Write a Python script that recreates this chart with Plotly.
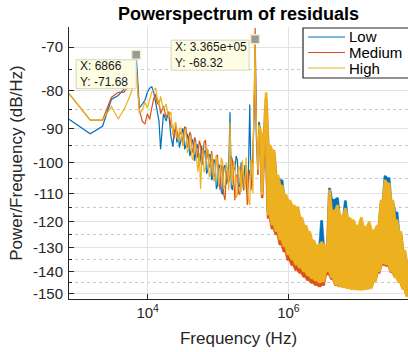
import numpy as np
import plotly.graph_objects as go

# ---------------- data ----------------
FS = 1e8            # sampling frequency (Hz)
NFFT = 131072       # FFT length -> bin width FS/NFFT

BIN_INDEX = [
    1, 2, 3, 4, 5, 6, 7, 8, 9, 10, 11, 12, 13, 14, 15, 16, 17, 18, 19, 20, 22, 24, 26, 28,
    30, 31, 33, 34, 36, 37, 39, 41, 42, 44, 46, 48, 50, 52, 54, 56, 58, 61, 63, 66,
    68, 71, 74, 77, 80, 83, 87, 90, 94, 98, 102, 106, 110, 114, 119, 124, 129, 134, 140, 146,
    152, 158, 165, 172, 179, 186, 194, 202, 210, 219, 228, 237, 247, 257, 268, 279, 290, 302,
    315, 328, 341, 355, 370, 385, 400, 410, 420,
    435, 441, 447, 460, 480, 500,
    520, 555, 592, 632, 674, 719, 767, 819, 874, 932, 995, 1061, 1132, 1208, 1289, 1376,
    1468, 1566, 1671, 1783, 1903, 2030, 2166, 2311, 2466, 2631, 2808, 2996, 3197, 3411,
    3639, 3883, 4143, 4421, 4717, 5033, 5370, 5730, 6114, 6523, 6960, 7427, 7924, 8455,
    9022, 9626, 10271, 10959, 11693, 12477, 13313, 14204, 15156, 16171, 17254, 18410,
    19644, 20960, 22364, 23863, 25461, 27167, 28988, 30930, 33002, 35213, 37572, 40090,
    42776, 45642, 48700, 51963, 55444, 59159, 63123, 65536,
]

LOW = [
    # bins 1..28
    -87.5, -91.5, -89.4, -82.3, -81.3, -79.8, -77.0, -75.0, -71.68, -84.5, -83.5, -82.5,
    -80.5, -79.5, -79.1, -80.5, -83.0, -86.0, -88.0, -96.0, -86.0, -88.0, -85.5, -92.0,
    # bins 30..420
    -95.3, -91.0, -89.9, -94.0, -91.9, -95.5, -93.3, -90.0, -90.4, -96.0, -94.7, -91.5,
    -92.7, -98.0, -96.8, -93.0, -93.8, -99.5, -97.7, -94.5, -95.3, -101.0, -98.6, -95.0,
    -100.8, -97.0, -96.2, -103.5, -102.3, -97.5, -97.7, -105.5, -104.9, -99.0, -99.8,
    -108.5, -107.2, -100.5, -101.7, -109.5, -110.4, -101.5, -100.8, -107.0, -105.5, -101.0,
    -85.6, -108.0, -108.8, -101.5, -102.3, -98.0, -99.3, -108.0, -107.2, -100.0, -102.3,
    -109.0, -100.8, -106.0, -110.4, -102.0, -83.6, -106.0, -107.2, -98.0, -89.1,
    # bins 435..500
    -79.8, -68.32, -82.3, -93.3, -100.8, -88.3,
    # bins 520..65536
    -91.2, -109.5, -92.8, -84.6, -116.8, -95.6, -120.5, -97.2, -123.0, -104.8, -126.2,
    -105.5, -129.0, -111.3, -132.3, -113.2, -134.4, -115.0, -136.5, -115.5, -137.8, -119.4,
    -139.5, -122.3, -141.2, -124.7, -142.5, -128.0, -143.5, -129.9, -144.3, -119.6, -143.9,
    -129.9, -139.5, -108.2, -142.1, -112.0, -145.2, -111.5, -146.0, -118.6, -146.5, -112.5,
    -146.9, -119.4, -147.3, -120.3, -147.3, -122.3, -147.6, -119.4, -147.6, -122.7, -147.3,
    -121.0, -146.9, -124.1, -143.9, -122.3, -139.5, -113.3, -136.1, -104.2, -136.5, -104.8,
    -139.5, -113.3, -142.1, -116.5, -144.3, -124.7, -147.3, -132.0, -150.7, -136.6,
]

MEDIUM = [
    -80.8, -87.7, -87.7, -81.8, -80.5, -80.5, -79.0, -78.0, -74.8, -85.0, -88.0, -88.8,
    -86.0, -87.5, -84.5, -82.0, -81.0, -83.5, -82.5, -86.0, -84.0, -87.0, -85.5, -89.0,
    -90.4, -93.0, -89.1, -90.5, -93.3, -91.5, -91.0, -94.0, -92.7, -89.5, -89.9, -95.5,
    -94.7, -91.0, -91.9, -97.0, -96.2, -92.5, -93.3, -98.5, -97.7, -93.5, -94.7, -100.5,
    -99.3, -94.0, -93.3, -99.0, -96.2, -101.5, -100.8, -96.5, -99.3, -104.5, -103.9,
    -98.0, -97.7, -106.0, -108.8, -101.0, -100.8, -110.5, -112.3, -103.0, -102.3, -106.5,
    -103.9, -98.0, -99.3, -108.0, -112.3, -104.0, -103.9, -110.0, -110.4, -101.5, -100.8,
    -108.5, -107.2, -101.0, -114.0, -104.5, -102.3, -109.0, -105.5, -99.5, -90.4,
    -76.5, -66.0, -79.8, -90.4, -103.9, -90.4,
    -91.5, -111.5, -93.4, -82.1, -118.8, -96.2, -122.8, -97.7, -125.0, -105.4, -129.0,
    -108.7, -131.8, -111.9, -135.2, -113.8, -137.4, -115.5, -139.6, -116.1, -140.8, -119.9,
    -142.5, -122.8, -144.0, -125.2, -145.2, -128.5, -146.2, -130.4, -146.8, -129.2, -146.2,
    -130.4, -141.5, -110.3, -143.5, -117.3, -146.2, -115.5, -146.7, -119.1, -147.0, -116.6,
    -147.2, -119.9, -147.6, -120.8, -147.5, -122.8, -147.8, -119.9, -147.8, -123.2, -147.5,
    -121.5, -147.0, -124.6, -144.0, -122.8, -140.8, -113.8, -137.4, -107.0, -137.8, -108.0,
    -140.5, -113.8, -142.4, -120.8, -144.8, -125.2, -147.6, -132.5, -151.0, -137.1,
]

HIGH = [
    -80.8, -87.7, -87.7, -84.1, -87.4, -85.0, -82.3, -79.5, -74.8, -86.0, -85.0, -83.0,
    -84.5, -82.0, -80.5, -80.0, -79.4, -82.0, -84.0, -81.5, -85.0, -83.5, -87.0, -85.5,
    -91.9, -89.0, -88.3, -92.5, -93.3, -90.0, -89.9, -95.0, -94.7, -90.5, -91.4, -97.0,
    -96.2, -92.0, -93.3, -98.5, -99.3, -94.0, -94.7, -100.5, -102.9, -97.0, -108.5, -99.0,
    -96.2, -103.0, -101.7, -95.5, -96.2, -104.5, -103.9, -97.5, -98.6, -106.0, -105.5,
    -98.0, -99.3, -107.5, -103.9, -98.5, -99.8, -108.5, -107.2, -100.0, -102.3, -109.0,
    -88.3, -104.0, -107.2, -99.5, -100.8, -111.5, -110.4, -101.0, -102.3, -109.5, -99.3,
    -104.5, -108.8, -98.5, -103.9, -112.5, -114.0, -99.0, -100.8, -110.0, -87.7,
    -77.6, -68.5, -81.0, -91.9, -102.3, -89.1,
    -90.4, -110.4, -91.9, -80.6, -117.6, -94.7, -121.3, -96.2, -123.7, -103.9, -127.0,
    -107.2, -129.7, -110.4, -133.0, -112.3, -135.1, -114.0, -137.2, -114.6, -138.5, -118.4,
    -140.2, -121.3, -141.9, -123.7, -143.2, -127.0, -144.2, -128.9, -145.0, -127.7, -144.6,
    -128.9, -140.2, -108.8, -142.8, -115.8, -145.9, -114.0, -146.7, -117.6, -147.2, -115.1,
    -147.6, -118.4, -148.0, -119.3, -148.0, -121.3, -148.3, -118.4, -148.3, -121.7, -148.0,
    -120.0, -147.6, -123.1, -144.6, -121.3, -140.2, -112.3, -136.8, -105.5, -137.2, -106.5,
    -140.2, -112.3, -142.8, -119.3, -145.0, -123.7, -148.0, -131.0, -151.4, -135.6,
]

SERIES_NAMES = ["Low", "Medium", "High"]
SERIES_COLORS = ["#0072BD", "#D95319", "#EDB120"]

Y_TICKS = [-70, -80, -90, -100, -110, -120, -130, -140, -150]
Y_MINOR = [-75, -85, -95, -105, -115, -125, -135, -145]
X_TICKS = [1e4, 1e6]
X_TICK_LABELS = ["10<sup>4</sup>", "10<sup>6</sup>"]

DENSE_FROM_BIN = 480                     # spectrum is drawn densely from this bin on
DATATIPS = [("Low", 9), ("Low", 441)]    # (series, bin) of the two data tips
Y_LIMITS_DB = (-65.8, -152.4)

# ---------------- figure ----------------
freq = np.array(BIN_INDEX, dtype=float) * FS / NFFT
series = {"Low": LOW, "Medium": MEDIUM, "High": HIGH}
for nm, v in series.items():
    assert len(v) == len(BIN_INDEX), (nm, len(v), len(BIN_INDEX))

FONT = "Liberation Sans, Arial, Helvetica, sans-serif"
AX = "#262626"

# plot-area geometry in pixels
L, R, T, B = 69, 408, 27, 299
W, H = 408, 352
X_RANGE = [np.log10(freq[0]), np.log10(FS / 2)]
Y_RANGE = [np.log10(-Y_LIMITS_DB[1]), np.log10(-Y_LIMITS_DB[0])]   # reversed magnitude axis

def px(xp):
    return (xp - L) / (R - L)
def py(yp):
    return (B - yp) / (B - T)
def data_to_pixel(f, mag):
    fx = (np.log10(f) - X_RANGE[0]) / (X_RANGE[1] - X_RANGE[0])
    fy = (np.log10(mag) - Y_RANGE[0]) / (Y_RANGE[1] - Y_RANGE[0])
    return L + fx * (R - L), B - fy * (B - T)

fig = go.Figure()
start = BIN_INDEX.index(DENSE_FROM_BIN)

for name, color in zip(SERIES_NAMES, SERIES_COLORS):
    mag = -np.array(series[name], dtype=float)   # plotted on reversed log-magnitude axis
    # dense part: area swept by the rapidly oscillating trace
    f_seg = np.sqrt(freq[start:-1] * freq[start + 1:])
    top = np.minimum(mag[start:-1], mag[start + 1:])
    bot = np.maximum(mag[start:-1], mag[start + 1:])
    fig.add_trace(go.Scatter(
        x=np.concatenate([f_seg, f_seg[::-1]]),
        y=np.concatenate([top, bot[::-1]]),
        fill="toself", fillcolor=color, mode="lines",
        line=dict(color=color, width=0.6),
        showlegend=False, hoverinfo="skip",
    ))
    fig.add_trace(go.Scatter(
        x=freq, y=mag, mode="lines", name=name, showlegend=False,
        line=dict(color=color, width=1.2),
    ))

# data tips (markers + boxes)
tip_x, tip_y = [], []
for sname, b in DATATIPS:
    i = BIN_INDEX.index(b)
    tip_x.append(freq[i])
    tip_y.append(-series[sname][i])

# box geometry relative to the marker (px): (left, right, top, bottom) offsets, y down
TIP_BOX = [(-60, 0, 5, 34), (-84, -6, 1, 31)]
for (fx, fy), (bl, br, bt, bb) in zip(zip(tip_x, tip_y), TIP_BOX):
    mx, my = data_to_pixel(fx, fy)
    fig.add_shape(type="rect", xref="paper", yref="paper",
                  x0=px(mx + bl), x1=px(mx + br), y0=py(my + bb), y1=py(my + bt),
                  line=dict(color="#d6d6bc", width=1), fillcolor="#fdfde4", layer="above")
    xt = f"{fx:.4g}" if fx >= 1e5 else f"{fx:.0f}"
    fig.add_annotation(
        x=px(mx + bl + 3), y=py(my + (bt + bb) / 2), xref="paper", yref="paper",
        text=f"X: {xt}<br>Y: {-fy:.2f}", showarrow=False, xanchor="left",
        yanchor="middle", align="left", borderpad=0,
        font=dict(family=FONT, size=12, color="#1a1a1a"),
    )

fig.add_trace(go.Scatter(
    x=tip_x, y=tip_y, mode="markers", showlegend=False, hoverinfo="skip",
    marker=dict(symbol="square", size=9, color="#9a9a9a",
                line=dict(color="#f2f0c4", width=1.5)),
))

# legend (drawn like MATLAB's)
LEG_BOX = (303, 412, 28, 78)
LEG_ROWS = [37, 52.5, 68]
fig.add_shape(type="rect", xref="paper", yref="paper",
              x0=px(LEG_BOX[0]), x1=px(LEG_BOX[1]), y0=py(LEG_BOX[3]), y1=py(LEG_BOX[2]),
              line=dict(color=AX, width=1.2), fillcolor="white", layer="above")
for name, color, yr in zip(SERIES_NAMES, SERIES_COLORS, LEG_ROWS):
    fig.add_shape(type="line", xref="paper", yref="paper",
                  x0=px(308), x1=px(345), y0=py(yr), y1=py(yr),
                  line=dict(color=color, width=1.2), layer="above")
    fig.add_annotation(x=px(348), y=py(yr), xref="paper", yref="paper", text=name,
                       showarrow=False, xanchor="left", yanchor="middle", borderpad=0,
                       font=dict(family=FONT, size=15, color="#000000"))

fig.update_layout(
    width=W, height=H,
    margin=dict(l=L, r=W - R, t=T, b=H - B),
    paper_bgcolor="white", plot_bgcolor="white",
    font=dict(family=FONT, color=AX, size=15),
    title=dict(text="<b>Powerspectrum of residuals</b>", x=0.5, xref="paper",
               y=1 - 14 / H, yref="container", yanchor="middle", xanchor="center",
               font=dict(family=FONT, size=18, color="#000000")),
    showlegend=False,
)

fig.update_xaxes(
    type="log", range=X_RANGE,
    tickmode="array", tickvals=X_TICKS, ticktext=X_TICK_LABELS,
    ticks="inside", ticklen=5, tickcolor=AX, tickfont=dict(size=15, color=AX),
    showline=True, linecolor=AX, linewidth=1, mirror=False,
    showgrid=True, gridcolor="#e2e2e2", gridwidth=1, zeroline=False,
    title=dict(text="Frequency (Hz)", font=dict(size=17, color=AX), standoff=12),
)
fig.update_yaxes(
    type="log", range=Y_RANGE,
    tickmode="array", tickvals=[-t for t in Y_TICKS], ticktext=[str(t) for t in Y_TICKS],
    ticks="inside", ticklen=5, tickcolor=AX, tickfont=dict(size=15, color=AX),
    ticklabelstandoff=2,
    showline=True, linecolor=AX, linewidth=1, mirror=False,
    showgrid=True, gridcolor="#e2e2e2", gridwidth=1, zeroline=False,
    minor=dict(tickmode="array", tickvals=[-t for t in Y_MINOR], ticks="inside",
               ticklen=3, tickcolor=AX, showgrid=True, gridcolor="#c8c8c8",
               griddash="dot", gridwidth=1),
    title=dict(text="Power/Frequency (dB/Hz)", font=dict(size=17, color=AX), standoff=6),
)

fig.write_html("out.html")
